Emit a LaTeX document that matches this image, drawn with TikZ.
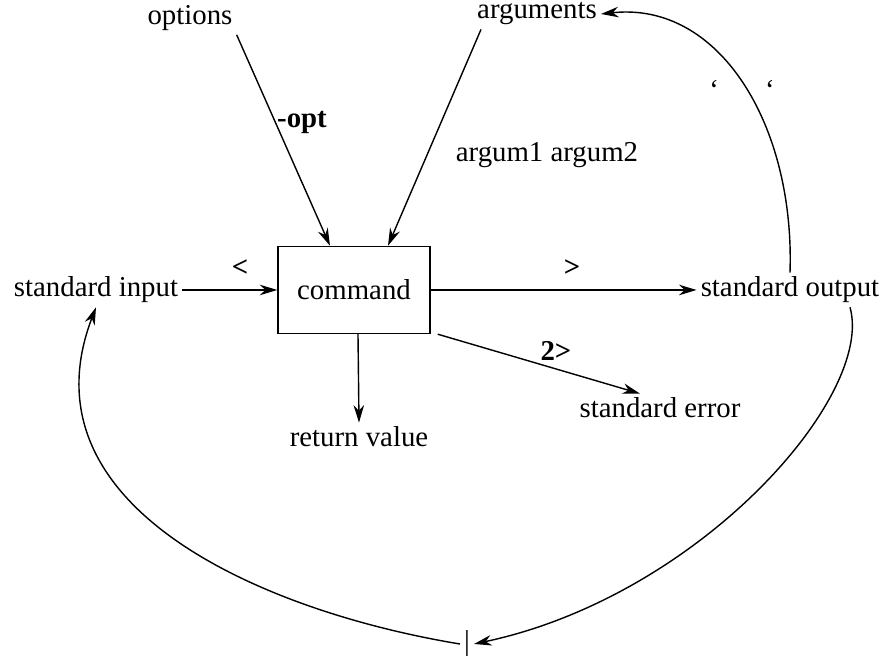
\documentclass[tikz,border=0pt]{standalone}
\usepackage{fontspec}
\setmainfont{Liberation Serif}
\usepackage{tikz}
\usetikzlibrary{arrows.meta}

\begin{document}
\begin{tikzpicture}[font=\fontsize{8.2}{10}\selectfont,
  arr/.style={-{Stealth[length=5pt,width=3pt]}},
  lbl/.style={inner sep=1pt},
  redir/.style={font=\fontsize{8.2}{10}\selectfont\bfseries}]
  \useasboundingbox (0,0) rectangle (8.88,6.56);
  % the command itself
  \node[draw,minimum width=1.52cm,minimum height=0.87cm] (cmd) at (3.54,3.66) {command};
  % streams round it
  \node[lbl] (opts) at (1.90,6.38) {options};
  \node[lbl] (args) at (5.37,6.42) {arguments};
  \node[lbl] (inp)  at (0.96,3.66) {standard input};
  \node[lbl] (out)  at (7.90,3.66) {standard output};
  \node[lbl] (err)  at (6.60,2.48) {standard error};
  \node[lbl] (ret)  at (3.59,2.19) {return value};
  \node[lbl] (pipe) at (4.67,0.12) {|};
  % labels on the connectors
  \node[redir] (lopt) at (3.02,5.34) {-opt};
  \node (larg) at (5.47,5.01) {argum1 argum2};
  \node[redir] (lin)  at (2.40,3.88) {<};
  \node[redir] (lout) at (5.72,3.88) {>};
  \node[redir] (lerr) at (5.56,3.05) {2>};
  \node (lsub) at (7.42,5.66) {`\hspace{1.6em}`};
  % straight connectors
  \draw[arr] (opts.south east) -- ([xshift=-0.24cm]cmd.north);
  \draw[arr] ([xshift=0.08cm]args.south west) -- ([xshift=0.34cm]cmd.north);
  \draw[arr] (inp.east) -- (cmd.west);
  \draw[arr] (cmd.east) -- (out.west);
  \draw[arr] ([xshift=0.07cm]cmd.south east) -- ([xshift=-0.2cm]err.north);
  \draw[arr] ([xshift=0.04cm]cmd.south) -- (ret.north);
  % curved connectors
  \draw[arr] (out.north) .. controls (7.95,5.3) and (7.2,6.55) .. (args.east);
  \draw[arr] ([xshift=0.6cm]out.south) .. controls (8.75,2.6) and (7.0,0.6) .. (pipe.east);
  \draw[arr] (pipe.west) .. controls (2.6,0.45) and (0.2,1.5) .. (inp.south);
\end{tikzpicture}
\end{document}
